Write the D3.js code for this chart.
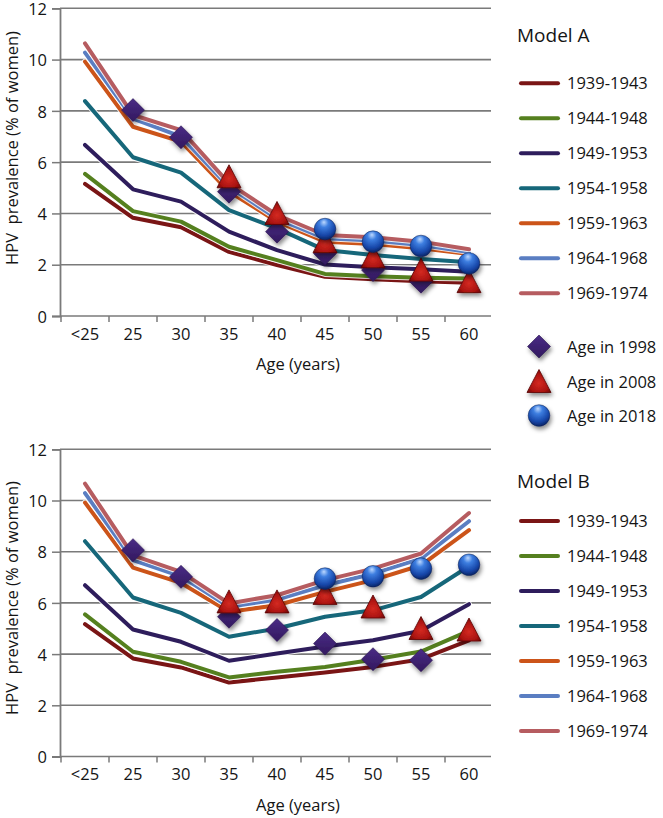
<!DOCTYPE html>
<html>
<head>
<meta charset="utf-8">
<script src="https://cdn.jsdelivr.net/npm/d3@7"></script>
<style>
  html, body { margin: 0; padding: 0; background: #fff; }
  svg { display: block; font-family: "Open Sans", "DejaVu Sans", sans-serif; }
</style>
</head>
<body>
<svg id="chart" width="663" height="818"></svg>
<script>
// ---------- data ----------
const ages = ["<25", "25", "30", "35", "40", "45", "50", "55", "60"];
const cohorts = ["1939-1943", "1944-1948", "1949-1953", "1954-1958", "1959-1963", "1964-1968", "1969-1974"];
const cohortColors = ["#7a1515", "#55801f", "#2e1d5c", "#16677a", "#cc5419", "#5a7ec2", "#b65c60"];
const yTicks = [0, 2, 4, 6, 8, 10, 12];

// Model A (% of women), one array per cohort, values for ages <25..60
const modelA_1939 = [5.15, 3.83, 3.46, 2.50, 1.99, 1.53, 1.43, 1.36, 1.30];
const modelA_1944 = [5.54, 4.09, 3.68, 2.70, 2.18, 1.64, 1.55, 1.49, 1.46];
const modelA_1949 = [6.67, 4.94, 4.46, 3.29, 2.57, 2.01, 1.90, 1.82, 1.73];
const modelA_1954 = [8.38, 6.19, 5.59, 4.13, 3.42, 2.57, 2.38, 2.22, 2.10];
const modelA_1959 = [9.92, 7.38, 6.80, 4.85, 3.68, 2.90, 2.81, 2.64, 2.42];
const modelA_1964 = [10.27, 7.70, 7.00, 5.04, 3.80, 3.03, 2.94, 2.77, 2.50];
const modelA_1969 = [10.63, 7.84, 7.25, 5.17, 3.94, 3.16, 3.07, 2.90, 2.60];

// Model B
const modelB_1939 = [5.17, 3.83, 3.48, 2.89, 3.09, 3.28, 3.50, 3.80, 4.54];
const modelB_1944 = [5.55, 4.09, 3.70, 3.09, 3.31, 3.50, 3.78, 4.10, 4.91];
const modelB_1949 = [6.69, 4.96, 4.48, 3.74, 4.02, 4.30, 4.54, 4.91, 5.95];
const modelB_1954 = [8.41, 6.21, 5.61, 4.68, 5.00, 5.46, 5.71, 6.23, 7.43];
const modelB_1959 = [9.92, 7.38, 6.78, 5.65, 5.91, 6.43, 6.89, 7.47, 8.84];
const modelB_1964 = [10.29, 7.67, 7.04, 5.85, 6.13, 6.69, 7.14, 7.73, 9.19];
const modelB_1969 = [10.66, 7.86, 7.21, 5.98, 6.30, 6.89, 7.34, 7.93, 9.51];

// markers: [age, value]
const diamondsA  = [["25", 8.03], ["30", 6.97], ["35", 4.85], ["40", 3.29], ["45", 2.44], ["50", 1.79], ["55", 1.34]];
const trianglesA = [["35", 5.43], ["40", 4.00], ["45", 2.90], ["50", 2.31], ["55", 1.79], ["60", 1.34]];
const circlesA   = [["45", 3.39], ["50", 2.90], ["55", 2.73], ["60", 2.05]];

const diamondsB  = [["25", 8.06], ["30", 7.02], ["35", 5.46], ["40", 4.94], ["45", 4.41], ["50", 3.80], ["55", 3.76]];
const trianglesB = [["35", 6.04], ["40", 6.04], ["45", 6.37], ["50", 5.84], ["55", 5.00], ["60", 4.94]];
const circlesB   = [["45", 6.95], ["50", 7.04], ["55", 7.34], ["60", 7.49]];

const markerLabels = ["Age in 1998", "Age in 2008", "Age in 2018"];

// ---------- drawing ----------
const svg = d3.select("#chart");
const defs = svg.append("defs");

const sh = defs.append("filter").attr("id", "shadow").attr("x", "-50%").attr("y", "-50%").attr("width", "200%").attr("height", "200%");
sh.append("feDropShadow").attr("dx", 1.5).attr("dy", 3).attr("stdDeviation", 2).attr("flood-color", "#000").attr("flood-opacity", 0.45);

const gD = defs.append("linearGradient").attr("id", "gDiamond").attr("x1", 0).attr("y1", 0).attr("x2", 0).attr("y2", 1);
gD.append("stop").attr("offset", "0%").attr("stop-color", "#4a2c86");
gD.append("stop").attr("offset", "100%").attr("stop-color", "#32195e");

const gT = defs.append("radialGradient").attr("id", "gTri").attr("cx", "50%").attr("cy", "60%").attr("r", "60%");
gT.append("stop").attr("offset", "0%").attr("stop-color", "#d42a22");
gT.append("stop").attr("offset", "70%").attr("stop-color", "#a8120f");
gT.append("stop").attr("offset", "100%").attr("stop-color", "#6a0606");

const gC = defs.append("radialGradient").attr("id", "gCirc").attr("cx", "45%").attr("cy", "30%").attr("r", "70%").attr("fx", "45%").attr("fy", "18%");
gC.append("stop").attr("offset", "0%").attr("stop-color", "#bcd8ff");
gC.append("stop").attr("offset", "30%").attr("stop-color", "#3d7ee0");
gC.append("stop").attr("offset", "75%").attr("stop-color", "#1746a8");
gC.append("stop").attr("offset", "100%").attr("stop-color", "#0a2466");

const gridColor = "#7a7a7a";
const textColor = "#151515";

function drawMarker(g, type, cx, cy) {
  if (type === "diamond") {
    const s = 11.5;
    g.append("path")
      .attr("d", `M${cx},${cy - s}L${cx + s},${cy}L${cx},${cy + s}L${cx - s},${cy}Z`)
      .attr("fill", "url(#gDiamond)").attr("stroke", "#2a1450").attr("stroke-width", 0.6)
      .attr("filter", "url(#shadow)");
  } else if (type === "triangle") {
    const w = 12, h = 22;
    g.append("path")
      .attr("d", `M${cx},${cy - h / 2 - 1}L${cx + w},${cy + h / 2}L${cx - w},${cy + h / 2}Z`)
      .attr("fill", "url(#gTri)").attr("stroke", "#5a0505").attr("stroke-width", 0.8)
      .attr("filter", "url(#shadow)");
  } else {
    g.append("circle").attr("cx", cx).attr("cy", cy).attr("r", 10.8)
      .attr("fill", "url(#gCirc)").attr("stroke", "#0a2050").attr("stroke-width", 0.5)
      .attr("filter", "url(#shadow)");
  }
}

function panel(opts) {
  const g = svg.append("g");
  const x = d3.scaleBand().domain(ages).range([61, 493]).padding(0);
  const y = d3.scaleLinear().domain([0, 12]).range([opts.y0, opts.y12]);
  const cx = a => x(a) + x.bandwidth() / 2;

  // gridlines
  g.append("g").selectAll("line").data(yTicks).join("line")
    .attr("x1", 60).attr("x2", 491)
    .attr("y1", d => y(d)).attr("y2", d => y(d))
    .attr("stroke", gridColor).attr("stroke-width", 1.6);

  // y axis
  const yAxis = d3.axisLeft(y).tickValues(yTicks).tickSize(8).tickPadding(5);
  const ya = g.append("g").attr("transform", "translate(60,0)").call(yAxis);
  ya.select(".domain").attr("stroke", gridColor).attr("stroke-width", 1.8);
  ya.selectAll(".tick line").attr("stroke", gridColor).attr("stroke-width", 1.5);
  ya.selectAll(".tick text").attr("font-size", 16.5).attr("fill", textColor)
    .attr("font-family", "Open Sans").attr("dy", "0.38em");

  // x axis
  const xAxis = d3.axisBottom(x).tickSize(0).tickPadding(12);
  const xa = g.append("g").attr("transform", `translate(0,${opts.y0})`).call(xAxis);
  xa.select(".domain").remove();
  xa.selectAll(".tick text").attr("font-size", 16.5).attr("fill", textColor).attr("font-family", "Open Sans");
  g.append("g").selectAll("line").data(ages).join("line")
    .attr("x1", d => x(d)).attr("x2", d => x(d))
    .attr("y1", opts.y0).attr("y2", opts.y0 + 6)
    .attr("stroke", gridColor).attr("stroke-width", 1.5);

  // axis titles
  g.append("text").attr("x", 298).attr("y", opts.y0 + 54)
    .attr("text-anchor", "middle").attr("font-size", 16.5).attr("fill", textColor)
    .text("Age (years)");
  g.append("text")
    .attr("transform", `translate(18,${opts.yTitle}) rotate(-90)`)
    .attr("text-anchor", "middle").attr("font-size", 16.5).attr("fill", textColor)
    .attr("xml:space", "preserve").style("white-space", "pre")
    .text("HPV  prevalence (% of women)");

  // lines
  const line = d3.line().x((d, i) => cx(ages[i])).y(d => y(d));
  opts.series.forEach((s, i) => {
    g.append("path").attr("d", line(s)).attr("fill", "none")
      .attr("stroke", "#ffffff").attr("stroke-width", 6).attr("stroke-opacity", 0.85)
      .attr("stroke-linejoin", "round").attr("stroke-linecap", "round");
    g.append("path").attr("d", line(s)).attr("fill", "none")
      .attr("stroke", cohortColors[i]).attr("stroke-width", 4)
      .attr("stroke-linejoin", "round").attr("stroke-linecap", "round");
  });

  // markers
  const mg = g.append("g");
  opts.diamonds.forEach(d => drawMarker(mg, "diamond", cx(d[0]), y(d[1])));
  opts.triangles.forEach(d => drawMarker(mg, "triangle", cx(d[0]), y(d[1])));
  opts.circles.forEach(d => drawMarker(mg, "circle", cx(d[0]), y(d[1])));

  // legend
  const lg = svg.append("g");
  lg.append("text").attr("x", 517).attr("y", opts.legendTop).attr("font-size", 19)
    .attr("fill", textColor).text(opts.title);
  cohorts.forEach((c, i) => {
    const ly = opts.legendLine0 + i * 35;
    lg.append("line").attr("x1", 521).attr("x2", 558).attr("y1", ly).attr("y2", ly)
      .attr("stroke", cohortColors[i]).attr("stroke-width", 4).attr("stroke-linecap", "round");
    lg.append("text").attr("x", 567).attr("y", ly + 6).attr("font-size", 16.5)
      .attr("fill", textColor).text(c);
  });
  if (opts.showMarkers) {
    const types = ["diamond", "triangle", "circle"];
    const mys = [346.5, 381.5, 415.5];
    types.forEach((t, i) => {
      drawMarker(lg, t, 539, mys[i]);
      lg.append("text").attr("x", 567).attr("y", mys[i] + 6).attr("font-size", 16.5)
        .attr("fill", textColor).text(markerLabels[i]);
    });
  }
}

panel({
  y0: 316, y12: 8.3, yTitle: 148, title: "Model A", legendTop: 42, legendLine0: 83.3,
  series: [modelA_1939, modelA_1944, modelA_1949, modelA_1954, modelA_1959, modelA_1964, modelA_1969],
  diamonds: diamondsA, triangles: trianglesA, circles: circlesA, showMarkers: true
});
panel({
  y0: 756.5, y12: 449.3, yTitle: 598, title: "Model B", legendTop: 488, legendLine0: 521,
  series: [modelB_1939, modelB_1944, modelB_1949, modelB_1954, modelB_1959, modelB_1964, modelB_1969],
  diamonds: diamondsB, triangles: trianglesB, circles: circlesB, showMarkers: false
});
</script>
</body>
</html>
